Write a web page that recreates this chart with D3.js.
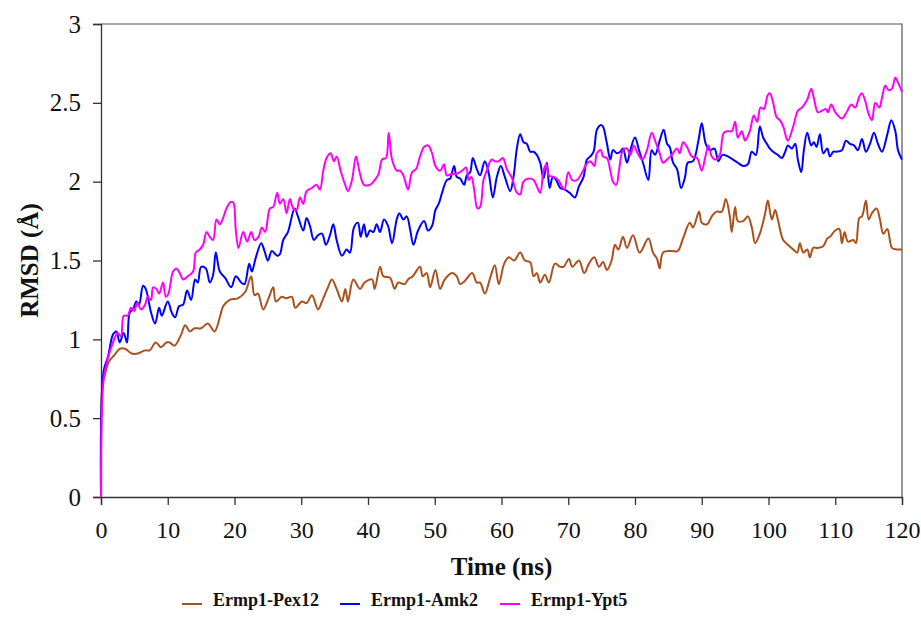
<!DOCTYPE html>
<html>
<head>
<meta charset="UTF-8">
<title>RMSD</title>
<script src="https://d3js.org/d3.v7.min.js"></script>
<style>
  body { margin: 0; background: #fff; }
  svg text { font-family: "Liberation Serif", "Times New Roman", serif; }
</style>
</head>
<body>
<div id="chart"></div>
<script>
// time (ns), RMSD (A)
var pex12 = [[0,0],[0.2,0.7],[0.6,0.78],[1.2,0.86],[2,0.9],[2.8,0.94],[3.6,0.94],[4.6,0.91],[5.5,0.91],[6.6,0.93],[7.3,0.93],[8.2,0.98],[9,0.95],[9.8,0.98],[10.3,0.98],[11,0.96],[12,1.03],[12.6,1.09],[13.3,1.05],[14,1.07],[15,1.07],[16,1.1],[17,1.05],[17.8,1.14],[18.3,1.21],[19.3,1.25],[20.5,1.26],[21.6,1.3],[22.5,1.4],[23,1.28],[23.5,1.29],[24.3,1.19],[25.1,1.26],[25.8,1.33],[26.2,1.24],[27.1,1.27],[27.8,1.26],[28.6,1.27],[29.1,1.2],[30.1,1.24],[30.8,1.23],[31.6,1.28],[32.5,1.19],[33.2,1.25],[34,1.33],[34.6,1.38],[35.3,1.32],[36.1,1.24],[36.6,1.32],[37,1.24],[37.8,1.38],[38.8,1.32],[39.5,1.36],[40.6,1.38],[41,1.32],[41.8,1.46],[42.3,1.4],[43.3,1.39],[44,1.32],[44.5,1.36],[45.5,1.35],[46,1.38],[46.7,1.4],[47.8,1.46],[48.2,1.4],[48.8,1.42],[49.3,1.33],[50.1,1.44],[50.8,1.32],[51.5,1.38],[52.6,1.42],[53.3,1.4],[53.8,1.35],[54.5,1.37],[55.6,1.42],[56.3,1.36],[56.8,1.36],[57.5,1.29],[58.3,1.39],[59,1.47],[59.6,1.35],[60.4,1.48],[61.1,1.52],[61.9,1.5],[62.8,1.55],[63.5,1.5],[64.3,1.49],[64.8,1.4],[65.3,1.42],[65.8,1.36],[66.5,1.41],[67.1,1.36],[68,1.48],[68.8,1.46],[69.3,1.46],[70.1,1.51],[70.6,1.46],[71.6,1.5],[72.4,1.42],[73.1,1.48],[73.9,1.52],[74.6,1.46],[75.2,1.49],[75.8,1.44],[76.5,1.5],[77,1.6],[77.5,1.57],[78.2,1.65],[78.8,1.58],[79.7,1.66],[80.7,1.55],[82,1.64],[82.7,1.55],[83.3,1.51],[83.7,1.45],[84.2,1.55],[85.5,1.56],[86.4,1.56],[87.2,1.64],[88.2,1.74],[88.7,1.71],[89.6,1.81],[90,1.74],[90.8,1.73],[91.5,1.78],[92.2,1.81],[93,1.81],[93.6,1.89],[94.2,1.78],[94.5,1.68],[95,1.84],[95.4,1.75],[96.2,1.75],[96.9,1.78],[97.5,1.71],[98,1.61],[98.7,1.67],[99.5,1.8],[99.9,1.88],[100.5,1.76],[101,1.82],[101.4,1.76],[102.2,1.63],[102.9,1.6],[103.7,1.57],[104.3,1.55],[104.7,1.61],[105.2,1.55],[105.8,1.57],[106.2,1.52],[106.7,1.58],[107.4,1.58],[108.2,1.59],[108.8,1.64],[109.2,1.65],[110,1.69],[110.6,1.7],[111,1.61],[111.4,1.68],[111.9,1.62],[112.7,1.63],[113.1,1.61],[113.6,1.77],[114,1.78],[114.6,1.88],[115,1.76],[115.5,1.8],[116.2,1.83],[116.7,1.76],[117.2,1.67],[117.8,1.7],[118.5,1.58],[119.2,1.57],[120,1.57]];

var amk2 = [[0,0],[0.4,0.8],[1.05,0.89],[1.8,1.03],[2.3,1.05],[2.8,0.98],[3.4,1.04],[3.9,0.98],[4.3,1.17],[4.8,1.19],[5.3,1.24],[5.7,1.22],[6.3,1.34],[6.7,1.32],[7.5,1.17],[8.1,1.1],[8.7,1.2],[9.1,1.15],[10,1.24],[10.6,1.17],[11.1,1.14],[11.7,1.21],[12.3,1.22],[12.9,1.31],[13.5,1.25],[14.1,1.38],[14.5,1.36],[15,1.46],[15.7,1.45],[16.3,1.36],[16.8,1.41],[17.2,1.55],[17.8,1.43],[18.6,1.39],[19.5,1.33],[20.2,1.4],[21,1.36],[21.5,1.35],[22.2,1.48],[22.6,1.43],[23.2,1.52],[24,1.61],[24.5,1.56],[25,1.5],[25.6,1.56],[26.4,1.53],[26.8,1.54],[27.3,1.63],[28,1.68],[29,1.83],[29.5,1.78],[30.3,1.69],[30.8,1.77],[31.3,1.72],[31.9,1.63],[32.5,1.66],[33.1,1.67],[33.7,1.6],[34.3,1.66],[34.8,1.73],[35.3,1.63],[36.1,1.53],[36.8,1.57],[37.3,1.55],[37.9,1.71],[38.5,1.74],[38.9,1.65],[39.4,1.73],[39.8,1.65],[40.3,1.69],[40.8,1.68],[41.3,1.73],[41.8,1.68],[42.4,1.76],[43,1.72],[43.6,1.61],[44.3,1.76],[44.7,1.8],[45.3,1.76],[45.8,1.78],[46.3,1.7],[46.8,1.6],[47.5,1.69],[48.4,1.75],[49,1.69],[49.6,1.72],[50.1,1.82],[50.6,1.86],[51.1,1.93],[51.8,2.01],[52.3,2.02],[52.9,2.1],[53.3,2.03],[53.8,2.02],[54.4,1.98],[54.8,2.04],[55.3,2.06],[55.7,2.15],[56.3,2.08],[56.8,2.04],[57.5,2.13],[58.1,2.05],[58.7,1.9],[59.3,2.03],[59.9,2.1],[60.5,2.03],[61.3,1.94],[61.8,2.03],[62.3,2.21],[62.8,2.3],[63.3,2.25],[63.8,2.24],[64.3,2.19],[64.8,2.19],[65.3,2.17],[65.8,2.12],[66.3,2.02],[66.8,2.12],[67.2,1.96],[67.7,2.03],[68.2,2.01],[68.8,1.96],[69.5,1.95],[70.2,1.93],[71,1.9],[71.6,1.97],[72.3,2.03],[72.8,2.14],[73.3,2.16],[73.8,2.19],[74.3,2.33],[74.9,2.36],[75.2,2.35],[75.8,2.24],[76.3,2.14],[76.7,2.2],[77.3,2.18],[77.8,2.19],[78.2,2.21],[78.8,2.12],[79.3,2.2],[80,2.28],[80.6,2.2],[81.2,2.12],[82,2.01],[82.5,2.2],[83,2.17],[83.7,2.26],[84.3,2.33],[84.8,2.24],[85.2,2.22],[85.7,2.12],[86.3,2.08],[86.9,1.96],[87.5,2.03],[87.9,2.12],[88.7,2.13],[89.5,2.26],[90,2.37],[90.6,2.24],[91.2,2.2],[91.9,2.21],[92.5,2.13],[93.1,2.17],[93.9,2.16],[94.7,2.14],[95.4,2.12],[96.2,2.1],[96.9,2.11],[97.5,2.19],[98.1,2.17],[98.7,2.35],[99.2,2.28],[99.9,2.23],[100.2,2.21],[101,2.18],[101.4,2.17],[102,2.15],[102.5,2.19],[102.9,2.23],[103.5,2.21],[104,2.24],[104.4,2.14],[104.9,2.06],[105.3,2.2],[105.8,2.31],[106.4,2.23],[106.8,2.25],[107.2,2.22],[107.7,2.3],[108.2,2.18],[108.8,2.21],[109.2,2.16],[109.7,2.19],[110.2,2.19],[111,2.2],[111.6,2.26],[112.2,2.24],[112.8,2.23],[113.4,2.2],[114,2.27],[114.6,2.19],[115.2,2.24],[115.8,2.31],[116.4,2.24],[117,2.19],[117.8,2.3],[118.4,2.39],[119,2.32],[119.4,2.2],[120,2.14]];

var ypt5 = [[0,0],[0.4,0.75],[1.05,0.88],[1.8,0.98],[2.5,1.04],[3,1.02],[3.4,1.15],[4,1.15],[4.5,1.2],[5,1.18],[5.4,1.23],[6,1.19],[6.6,1.22],[7,1.27],[7.5,1.25],[7.8,1.33],[8.3,1.32],[8.7,1.29],[9.3,1.36],[9.7,1.27],[10.1,1.29],[10.8,1.43],[11.3,1.45],[11.8,1.42],[12.3,1.38],[13,1.4],[13.8,1.43],[14.2,1.55],[14.8,1.57],[15.3,1.6],[15.8,1.68],[16.3,1.65],[16.8,1.63],[17.3,1.76],[17.8,1.73],[18.3,1.77],[18.8,1.83],[19.4,1.87],[19.8,1.87],[20.2,1.69],[20.6,1.58],[21.3,1.68],[21.9,1.62],[22.5,1.68],[23,1.63],[23.6,1.65],[24.1,1.71],[24.6,1.68],[25.3,1.83],[25.8,1.84],[26.4,1.93],[26.8,1.86],[27.3,1.89],[27.8,1.8],[28.3,1.89],[28.8,1.83],[29.3,1.82],[29.8,1.9],[30.3,1.86],[30.8,1.94],[31.6,1.96],[32.3,1.98],[32.8,1.95],[33.3,2.07],[33.8,2.15],[34.4,2.18],[34.9,2.13],[35.3,2.16],[35.9,2.07],[36.5,1.99],[37,1.94],[37.6,2.01],[38.2,2.16],[38.8,2.05],[39.4,1.98],[40.3,1.98],[41,2.01],[41.6,2.05],[42.1,2.14],[42.7,2.15],[43.1,2.31],[43.6,2.14],[44.3,2.07],[44.8,2.07],[45.3,2.04],[46,1.95],[46.6,2.06],[47.2,2.08],[47.8,2.16],[48.4,2.22],[49,2.23],[49.6,2.18],[50.1,2.1],[50.8,2.07],[51.4,2.11],[51.8,2.04],[52.6,2.05],[53.3,2.05],[54.1,2.07],[54.7,2.09],[55.1,2.01],[55.5,2.03],[55.9,1.95],[56.4,1.83],[56.8,1.84],[57.3,2.01],[57.8,2.07],[58.5,2.14],[59,2.13],[59.6,2.13],[60.2,2.15],[60.8,2.08],[61.6,2.02],[62.3,1.93],[62.8,1.92],[63.3,2],[64.1,2.02],[64.8,2.01],[65.3,1.97],[65.8,1.93],[66.3,2.07],[66.7,2.11],[67.1,2.04],[67.8,2.03],[68.5,2.01],[69.4,1.95],[70,2.06],[70.6,2.01],[71.3,2.01],[72.1,2.06],[72.7,2.11],[73.3,2.13],[73.9,2.1],[74.3,2.18],[74.9,2.2],[75.2,2.16],[75.8,2.15],[76.3,2.07],[76.7,2],[77.2,1.98],[77.6,2.07],[78.2,2.2],[78.8,2.21],[79.3,2.17],[79.8,2.23],[80.4,2.18],[81.1,2.14],[81.8,2.2],[82.5,2.31],[83.1,2.25],[83.7,2.18],[84.2,2.12],[84.8,2.14],[85.5,2.17],[86.3,2.21],[86.7,2.18],[87.2,2.25],[87.8,2.22],[88.5,2.16],[89.3,2.15],[90,2.07],[90.5,2.15],[91,2.23],[91.5,2.16],[92,2.14],[92.7,2.17],[93.3,2.31],[94,2.32],[94.5,2.32],[95,2.38],[95.4,2.28],[96,2.32],[96.5,2.26],[97.2,2.32],[97.8,2.42],[98.3,2.38],[98.8,2.47],[99.3,2.46],[99.9,2.55],[100.2,2.56],[100.7,2.5],[101.2,2.41],[101.7,2.39],[102.2,2.35],[102.9,2.26],[103.7,2.35],[104.4,2.45],[105,2.47],[105.8,2.52],[106.4,2.59],[106.8,2.53],[107.4,2.44],[108,2.45],[108.6,2.46],[108.9,2.44],[109.4,2.49],[110,2.44],[110.4,2.42],[111,2.4],[111.7,2.44],[112.4,2.49],[113,2.47],[113.6,2.54],[114,2.56],[114.5,2.51],[115,2.43],[115.5,2.39],[116,2.5],[116.6,2.47],[117,2.53],[117.5,2.61],[118,2.58],[118.5,2.59],[119,2.66],[119.4,2.63],[120,2.57]];

var seriesNames = ["Ermp1-Pex12", "Ermp1-Amk2", "Ermp1-Ypt5"];
var seriesColors = ["#a9521e", "#0000ff", "#ff00ff"];
var xTicks = [0,10,20,30,40,50,60,70,80,90,100,110,120];
var yTicks = [0,0.5,1,1.5,2,2.5,3];

var width = 921, height = 625;
var plotLeft = 101, plotRight = 902, plotTop = 24, plotBottom = 497;

var svg = d3.select("#chart").append("svg")
    .attr("width", width)
    .attr("height", height);

var x = d3.scaleLinear().domain([0,120]).range([plotLeft, plotRight]);
var y = d3.scaleLinear().domain([0,3]).range([plotBottom, plotTop]);

// frame on top and right
svg.append("path")
    .attr("d", "M" + plotLeft + "," + plotTop + "H" + plotRight + "V" + plotBottom)
    .attr("fill", "none")
    .attr("stroke", "#555")
    .attr("stroke-width", 1.2);

var xAxis = svg.append("g")
    .attr("transform", "translate(0," + plotBottom + ")")
    .call(d3.axisBottom(x).tickValues(xTicks).tickSize(8).tickPadding(16).tickFormat(d3.format("d")));

var yAxis = svg.append("g")
    .attr("transform", "translate(" + plotLeft + ",0)")
    .call(d3.axisLeft(y).tickValues(yTicks).tickSize(8).tickPadding(12).tickFormat(function(d){ return String(d); }));

[xAxis, yAxis].forEach(function(g){
  g.select(".domain").attr("stroke", "#333").attr("stroke-width", 1.3);
  g.selectAll(".tick line").attr("stroke", "#333").attr("stroke-width", 1.3);
  g.selectAll(".tick text")
    .attr("fill", "#111")
    .style("font-family", "'Liberation Serif', serif");
});
xAxis.selectAll(".tick text").style("font-size", "24px");
yAxis.selectAll(".tick text").style("font-size", "25px");

var line = d3.line()
    .x(function(d){ return x(d[0]); })
    .y(function(d){ return y(d[1]); })
    .curve(d3.curveCatmullRom.alpha(0.5));

[pex12, amk2, ypt5].forEach(function(data, i){
  svg.append("path")
    .datum(data)
    .attr("fill", "none")
    .attr("stroke", seriesColors[i])
    .attr("stroke-width", 2)
    .attr("stroke-linejoin", "round")
    .attr("d", line);
});

// axis titles
svg.append("text")
    .attr("x", (plotLeft + plotRight) / 2)
    .attr("y", 575)
    .attr("text-anchor", "middle")
    .style("font-size", "25px")
    .style("font-weight", "bold")
    .attr("fill", "#111")
    .text("Time (ns)");

svg.append("text")
    .attr("transform", "translate(38," + ((plotTop + plotBottom) / 2) + ") rotate(-90)")
    .attr("text-anchor", "middle")
    .style("font-size", "25px")
    .style("font-weight", "bold")
    .attr("fill", "#111")
    .text("RMSD (Å)");

// legend
var legendX = [182, 340, 500];
seriesNames.forEach(function(name, i){
  var g = svg.append("g").attr("transform", "translate(" + legendX[i] + ",604)");
  g.append("line")
    .attr("x1", 0).attr("x2", 20)
    .attr("y1", 0).attr("y2", 0)
    .attr("stroke", seriesColors[i])
    .attr("stroke-width", 2);
  g.append("text")
    .attr("x", 31)
    .attr("y", 0)
    .attr("dy", "0.1em")
    .style("font-size", "18px")
    .style("font-weight", "bold")
    .attr("fill", "#111")
    .text(name);
});
</script>
</body>
</html>
